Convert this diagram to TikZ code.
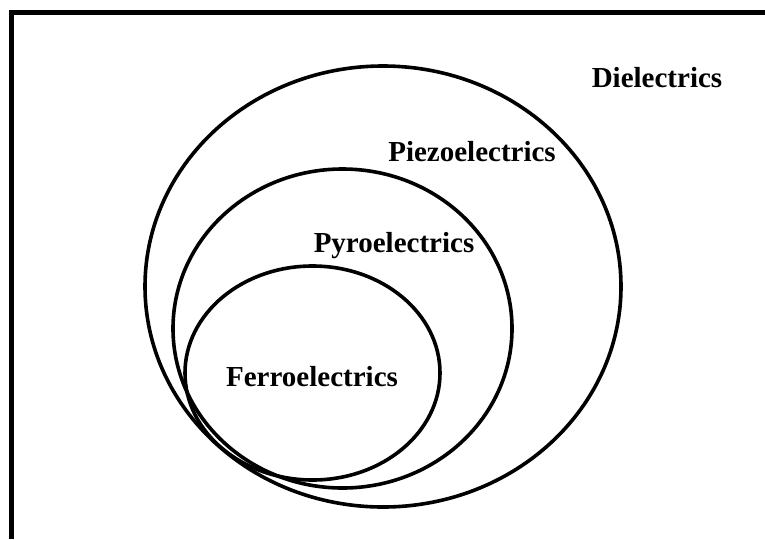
\documentclass[tikz,border=0pt]{standalone}
\usepackage{fontspec}
\setmainfont{Liberation Serif}
\usetikzlibrary{calc}

\begin{document}
\begin{tikzpicture}[x=1pt, y=-1pt, every node/.style={font=\fontsize{29}{31}\selectfont\bfseries, inner sep=0pt, anchor=base}]

    % Canvas
    \useasboundingbox (0,0) rectangle (765,539);

    % Frame: top and left edges only
    \draw[line width=4.5pt] (11.5,539) -- (11.5,12.5) -- (765,12.5);

    % Outer set
    \node (diel) at (657,87) {Dielectrics};

    % Piezoelectrics
    \draw[line width=3.6pt] (383,286.5) ellipse[x radius=238, y radius=220.5];
    \node (piezo) at (472,161) {Piezoelectrics};

    % Pyroelectrics
    \draw[line width=3.6pt] (342.5,328.5) ellipse[x radius=169.5, y radius=159.5];
    \node (pyro) at (394,252) {Pyroelectrics};

    % Ferroelectrics
    \draw[line width=3.6pt] (312.5,373) ellipse[x radius=127.5, y radius=107];
    \node (ferro) at (312,386) {Ferroelectrics};

\end{tikzpicture}
\end{document}
